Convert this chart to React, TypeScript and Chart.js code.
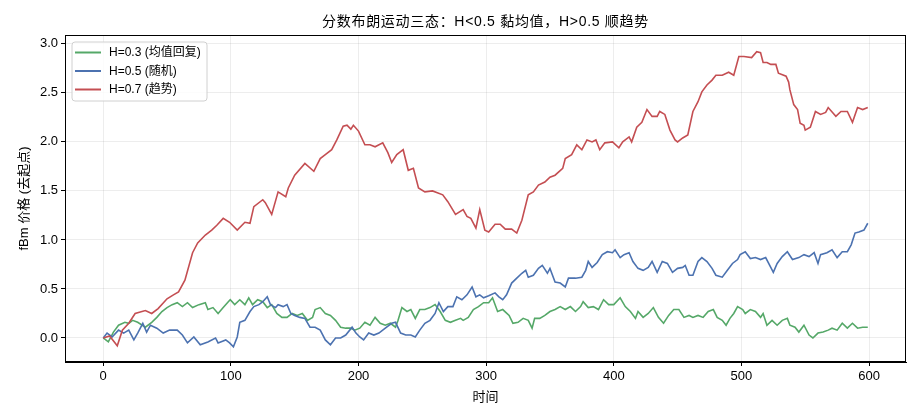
import React, { useEffect, useRef } from 'react';
import { Chart, registerables } from 'chart.js';

Chart.register(...registerables);

const TITLE = '分数布朗运动三态：H<0.5 黏均值，H>0.5 顺趋势';
const X_LABEL = '时间';
const Y_LABEL = 'fBm 价格 (去起点)';
const SERIES_NAMES = ['H=0.3 (均值回复)', 'H=0.5 (随机)', 'H=0.7 (趋势)'];
const SERIES_COLORS = ['#55a868', '#4c72b0', '#c44e52'];
const X_TICKS = [0, 100, 200, 300, 400, 500, 600];
const Y_TICKS = [0, 0.5, 1.0, 1.5, 2.0, 2.5, 3.0];

const greenX = [0, 4, 8, 12, 17, 20, 23, 27, 33, 38, 42, 46, 50, 54, 58, 62, 66, 70, 75, 80, 82, 86, 90, 94, 98, 99.5, 103, 107, 111, 114, 117, 121, 125, 128.5, 132, 136, 140, 144, 148, 152, 156, 160, 164, 166, 170, 174, 178, 182, 186, 190, 194, 197, 201, 205, 209, 213, 217, 221, 225, 229, 231, 234, 238, 241, 244.5, 248, 252, 256, 260, 264, 268, 272, 276, 280, 282, 286, 290, 294, 298, 302, 305, 309, 313, 318, 321, 325, 329, 333, 336, 338, 342, 346, 350, 354, 358, 362, 366, 370, 374, 376, 380, 384, 388, 392, 396, 400, 405, 409, 413, 417, 419, 423, 427, 431, 435, 439, 443, 447, 451, 455, 459, 462, 466, 470, 474, 478, 481, 485, 488, 491, 494, 497, 501, 503, 507, 511, 515, 517, 520, 524, 528, 532, 536, 538, 542, 545, 549, 553, 556, 560, 564, 568, 571, 575, 579, 583, 587, 591, 595, 599];
const greenY = [0, -0.04, 0.06, 0.13, 0.16, 0.15, 0.18, 0.16, 0.11, 0.16, 0.21, 0.27, 0.31, 0.34, 0.36, 0.32, 0.36, 0.31, 0.34, 0.36, 0.29, 0.31, 0.25, 0.31, 0.37, 0.39, 0.34, 0.39, 0.34, 0.41, 0.34, 0.39, 0.37, 0.31, 0.34, 0.25, 0.21, 0.21, 0.25, 0.23, 0.25, 0.18, 0.21, 0.29, 0.31, 0.25, 0.23, 0.18, 0.11, 0.10, 0.10, 0.08, 0.10, 0.16, 0.13, 0.21, 0.15, 0.13, 0.15, 0.11, 0.18, 0.31, 0.27, 0.29, 0.20, 0.29, 0.29, 0.31, 0.34, 0.27, 0.18, 0.16, 0.18, 0.20, 0.18, 0.21, 0.29, 0.32, 0.36, 0.36, 0.41, 0.27, 0.29, 0.23, 0.15, 0.16, 0.20, 0.18, 0.10, 0.20, 0.20, 0.23, 0.27, 0.29, 0.32, 0.29, 0.32, 0.27, 0.32, 0.37, 0.31, 0.32, 0.29, 0.39, 0.34, 0.34, 0.41, 0.32, 0.27, 0.20, 0.27, 0.21, 0.25, 0.31, 0.21, 0.15, 0.23, 0.29, 0.29, 0.21, 0.23, 0.21, 0.23, 0.21, 0.27, 0.29, 0.21, 0.18, 0.13, 0.20, 0.25, 0.32, 0.29, 0.25, 0.29, 0.27, 0.21, 0.25, 0.13, 0.18, 0.13, 0.18, 0.20, 0.13, 0.11, 0.06, 0.13, 0.03, 0.00, 0.05, 0.06, 0.08, 0.10, 0.08, 0.15, 0.10, 0.15, 0.10, 0.11, 0.11];

const blueX = [0, 3, 7, 12, 16, 20, 24, 27, 31, 34, 37, 42, 47, 52, 58, 62, 66, 71, 76, 82, 88, 90, 96, 99, 102, 105, 107, 111, 115, 118, 122, 125, 128.5, 131, 135, 137, 141, 144, 147, 150, 154, 158, 162, 166, 170, 174, 178, 182, 186, 190, 195, 198, 201, 204, 208, 212, 216, 221, 226, 229, 233, 237, 241, 244.5, 248, 252, 256, 260, 263, 266.5, 270, 274, 277, 281, 285, 289, 292, 295, 298, 302, 307, 310, 313, 316, 320, 324, 328, 331, 333, 337, 341, 344, 348, 350, 354, 358, 362, 364.5, 370, 375, 378, 380, 383, 387, 391, 395, 399, 401, 405, 408, 412, 415, 419, 423, 427, 430, 434, 438, 442, 446, 450, 454, 456, 459, 462, 466, 469, 473, 477, 480, 485, 489, 493, 497, 499, 503, 507, 511, 515, 519, 523, 525, 528, 532, 536, 540, 545, 549, 553, 557, 560, 562, 567, 571, 575, 579, 583, 586, 589, 592, 596, 599];
const blueY = [0, 0.05, 0.01, 0.08, 0.05, 0.08, -0.02, 0.05, 0.15, 0.06, 0.13, 0.10, 0.05, 0.08, 0.08, 0.03, -0.05, 0.01, -0.07, -0.04, 0.00, -0.05, -0.02, -0.05, -0.09, 0.01, 0.16, 0.18, 0.27, 0.32, 0.34, 0.37, 0.42, 0.34, 0.31, 0.34, 0.32, 0.34, 0.25, 0.23, 0.21, 0.20, 0.11, 0.11, 0.08, -0.02, -0.07, 0.00, 0.00, 0.03, 0.11, 0.05, 0.01, -0.02, 0.05, 0.03, 0.05, 0.10, 0.15, 0.16, 0.05, 0.03, 0.03, 0.01, 0.08, 0.15, 0.18, 0.25, 0.36, 0.27, 0.32, 0.32, 0.42, 0.39, 0.44, 0.52, 0.42, 0.44, 0.41, 0.43, 0.46, 0.42, 0.39, 0.44, 0.56, 0.61, 0.66, 0.69, 0.62, 0.64, 0.71, 0.74, 0.66, 0.71, 0.57, 0.56, 0.52, 0.61, 0.61, 0.62, 0.69, 0.78, 0.72, 0.77, 0.85, 0.88, 0.87, 0.90, 0.82, 0.85, 0.87, 0.78, 0.71, 0.69, 0.72, 0.78, 0.67, 0.78, 0.76, 0.67, 0.71, 0.72, 0.74, 0.64, 0.64, 0.78, 0.82, 0.78, 0.71, 0.64, 0.62, 0.69, 0.76, 0.80, 0.85, 0.88, 0.81, 0.82, 0.80, 0.82, 0.72, 0.67, 0.76, 0.83, 0.88, 0.80, 0.82, 0.85, 0.83, 0.87, 0.76, 0.85, 0.87, 0.90, 0.82, 0.88, 0.88, 0.95, 1.07, 1.08, 1.10, 1.17];

const redX = [0, 5, 11, 15, 20, 25, 33, 38, 43, 50, 55, 59, 64, 70, 74, 80, 85, 89, 94, 99, 105, 111, 115, 118, 125, 127, 132, 137, 143, 145, 150, 158, 165, 170, 174, 179, 183, 188, 191, 194, 196, 200, 205, 209, 213, 219, 223, 226, 230, 235, 239, 243, 247, 252, 258, 266, 270, 276, 282, 285, 288, 292, 295, 299, 302, 307, 311, 315, 320, 324, 328, 333, 337, 341, 346, 350, 354, 360, 362, 367, 371, 375, 379, 383, 386, 389, 393, 399, 404, 407, 409, 412, 414, 418, 422, 426, 430, 434, 436, 440, 444, 448, 450, 454, 458, 462, 466, 469, 473, 477, 480, 485, 490, 494, 498, 502, 508, 512, 515, 517, 520, 523, 527, 529, 535, 537, 538, 541, 544, 546, 549, 550, 554, 558, 562, 566, 568, 574, 578, 583, 587, 591, 595, 599];
const redY = [0, 0.02, -0.08, 0.08, 0.15, 0.25, 0.28, 0.25, 0.30, 0.40, 0.44, 0.47, 0.59, 0.87, 0.97, 1.05, 1.10, 1.15, 1.22, 1.18, 1.10, 1.18, 1.17, 1.34, 1.41, 1.38, 1.26, 1.49, 1.44, 1.53, 1.66, 1.78, 1.70, 1.83, 1.87, 1.92, 2.02, 2.16, 2.17, 2.13, 2.17, 2.11, 1.97, 1.97, 1.95, 1.99, 1.89, 1.79, 1.87, 1.92, 1.71, 1.73, 1.53, 1.49, 1.50, 1.46, 1.39, 1.26, 1.31, 1.24, 1.22, 1.12, 1.31, 1.10, 1.08, 1.16, 1.16, 1.11, 1.11, 1.07, 1.20, 1.46, 1.49, 1.56, 1.59, 1.64, 1.66, 1.73, 1.83, 1.87, 1.97, 1.92, 2.02, 2.00, 2.02, 1.92, 1.99, 2.00, 1.94, 2.00, 2.02, 2.05, 2.00, 2.15, 2.20, 2.33, 2.26, 2.26, 2.31, 2.28, 2.12, 2.02, 2.00, 2.04, 2.07, 2.31, 2.41, 2.51, 2.58, 2.63, 2.68, 2.68, 2.71, 2.68, 2.87, 2.87, 2.86, 2.92, 2.91, 2.81, 2.81, 2.79, 2.79, 2.70, 2.67, 2.61, 2.53, 2.38, 2.33, 2.19, 2.17, 2.12, 2.15, 2.31, 2.28, 2.30, 2.35, 2.26, 2.31, 2.31, 2.20, 2.35, 2.33, 2.35];

const FONT = '"Liberation Sans", "Noto Sans CJK SC", sans-serif';

function pairs(xs: number[], ys: number[]) {
  return xs.map((x, i) => ({ x, y: ys[i] }));
}

const frameAndText = {
  id: 'frameAndText',
  afterDraw(chart: any) {
    const { ctx, chartArea } = chart;
    const { left, right, top, bottom } = chartArea;
    ctx.save();
    ctx.strokeStyle = '#000';
    ctx.lineWidth = 1;
    ctx.strokeRect(left + 0.5, top + 0.5, right - left - 1, bottom - top - 1);
    ctx.fillStyle = '#000';
    ctx.textAlign = 'center';
    ctx.textBaseline = 'middle';
    ctx.font = `14px ${FONT}`;
    try { (ctx as any).letterSpacing = '0.7px'; } catch (e) {}
    ctx.fillText(TITLE, (left + right) / 2, 22);
    try { (ctx as any).letterSpacing = '0px'; } catch (e) {}
    ctx.font = `13px ${FONT}`;
    ctx.fillText(X_LABEL, (left + right) / 2, 397);
    ctx.save();
    ctx.translate(24, (top + bottom) / 2);
    ctx.rotate(-Math.PI / 2);
    ctx.fillText(Y_LABEL, 0, 0);
    ctx.restore();
    const bx = 72, by = 42, bw = 135, bh = 59, r = 3;
    ctx.beginPath();
    ctx.moveTo(bx + r, by);
    ctx.arcTo(bx + bw, by, bx + bw, by + bh, r);
    ctx.arcTo(bx + bw, by + bh, bx, by + bh, r);
    ctx.arcTo(bx, by + bh, bx, by, r);
    ctx.arcTo(bx, by, bx + bw, by, r);
    ctx.closePath();
    ctx.fillStyle = 'rgba(255,255,255,0.8)';
    ctx.fill();
    ctx.strokeStyle = '#d0d0d0';
    ctx.stroke();
    ctx.font = `12px ${FONT}`;
    ctx.textAlign = 'left';
    const rows = [52.5, 71, 89.5];
    SERIES_NAMES.forEach((name, i) => {
      ctx.strokeStyle = SERIES_COLORS[i];
      ctx.lineWidth = 2;
      ctx.beginPath();
      ctx.moveTo(75, rows[i]);
      ctx.lineTo(101, rows[i]);
      ctx.stroke();
      ctx.fillStyle = '#000';
      ctx.fillText(name, 109, rows[i] + 0.5);
    });
    ctx.restore();
  },
};

export default function App() {
  const ref = useRef<HTMLCanvasElement | null>(null);
  useEffect(() => {
    if (!ref.current) return;
    const datasets = [
      { label: SERIES_NAMES[0], data: pairs(greenX, greenY), borderColor: SERIES_COLORS[0], order: 3 },
      { label: SERIES_NAMES[1], data: pairs(blueX, blueY), borderColor: SERIES_COLORS[1], order: 2 },
      { label: SERIES_NAMES[2], data: pairs(redX, redY), borderColor: SERIES_COLORS[2], order: 1 },
    ].map((d) => ({ ...d, borderWidth: 1.6, pointRadius: 0, tension: 0, fill: false }));
    const chart = new Chart(ref.current, {
      type: 'line',
      data: { datasets },
      options: {
        responsive: false,
        animation: false,
        layout: { padding: { top: 35, right: 13, left: 0, bottom: 0 } },
        plugins: { legend: { display: false }, title: { display: false }, tooltip: { enabled: false } },
        scales: {
          x: {
            type: 'linear',
            min: -29.95,
            max: 628.95,
            afterFit: (s: any) => { s.height = 58; },
            afterBuildTicks: (s: any) => { s.ticks = X_TICKS.map((v) => ({ value: v })); },
            ticks: { font: { family: FONT, size: 13 }, color: '#000', padding: 3, maxRotation: 0, callback: (v: any) => String(v) },
            grid: { color: 'rgba(0,0,0,0.07)', tickColor: '#000', tickLength: 4, lineWidth: 1 },
            border: { color: '#000', width: 1 },
          },
          y: {
            type: 'linear',
            min: -0.245,
            max: 3.09,
            afterFit: (s: any) => { s.width = 65; },
            afterBuildTicks: (s: any) => { s.ticks = Y_TICKS.map((v) => ({ value: v })); },
            ticks: { font: { family: FONT, size: 13 }, color: '#000', padding: 3, callback: (v: any) => Number(v).toFixed(1) },
            grid: { color: 'rgba(0,0,0,0.07)', tickColor: '#000', tickLength: 4, lineWidth: 1 },
            border: { color: '#000', width: 1 },
          },
        },
      },
      plugins: [frameAndText],
    });
    return () => chart.destroy();
  }, []);
  return (
    <div style={{ position: 'fixed', left: 0, top: 0, width: 919, height: 420, background: '#fff' }}>
      <canvas ref={ref} width={919} height={420} style={{ width: 919, height: 420 }} />
    </div>
  );
}
